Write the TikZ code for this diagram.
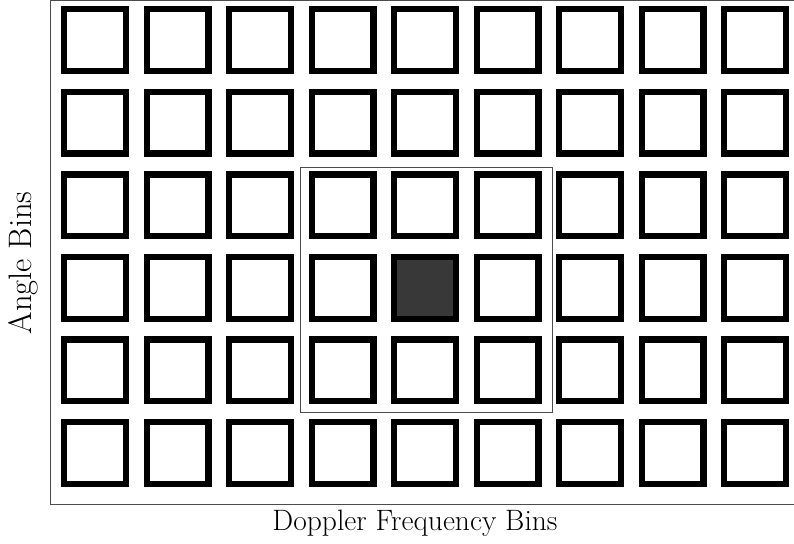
\documentclass[tikz,border=0pt]{standalone}
\usepackage{tikz}
\begin{document}
\begin{tikzpicture}[x=1pt,y=-1pt,
  cell/.style={draw=black,line width=6.3pt,minimum width=61.7pt,minimum height=61.7pt,inner sep=0pt,shape=rectangle},
  frame/.style={draw=black!70,line width=1pt},
  win/.style={draw=black!70,line width=1pt},
  lbl/.style={font=\fontsize{29.5}{34}\selectfont,inner sep=0pt}]
\useasboundingbox (0,0) rectangle (794,543);
\clip (0,0) rectangle (794,543);
\draw[frame] (50,1) rectangle (800,504);
\foreach \i in {0,...,8}{
  \foreach \j in {0,...,5}{
    \node[cell] (s-\i-\j) at ({95+82.5*\i},{40+82.6*\j}) {};
  }
}
\node[cell,fill=black!78] (target) at (s-4-3) {};
\coordinate (w1) at (300.7,167);
\coordinate (w2) at (552.7,412);
\draw[win] (w1) rectangle (w2);
\node[lbl,rotate=90,font=\fontsize{32.5}{38}\selectfont] (ylab) at (23,263) {Angle Bins};
\node[lbl] (xlab) at (415,523) {Doppler Frequency Bins};
\end{tikzpicture}
\end{document}
